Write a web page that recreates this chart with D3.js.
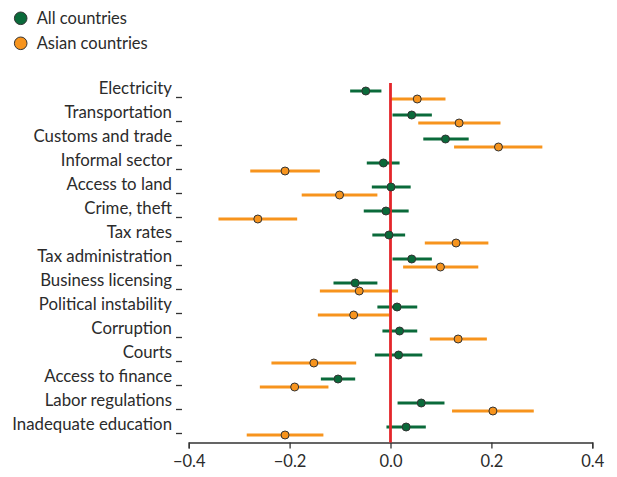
<!DOCTYPE html>
<html>
<head>
<meta charset="utf-8">
<script src="https://cdn.jsdelivr.net/npm/d3@7"></script>
<style>
  html, body { margin: 0; padding: 0; background: #fff; }
  svg { display: block; }
  text { font-family: Lato, "Noto Sans", sans-serif; fill: #2b2b2b; }
</style>
</head>
<body>
<svg id="chart" width="617" height="477"></svg>
<script>
// Obstacles to business: estimated effect with confidence interval
const categories = [
  "Electricity", "Transportation", "Customs and trade", "Informal sector",
  "Access to land", "Crime, theft", "Tax rates", "Tax administration",
  "Business licensing", "Political instability", "Corruption", "Courts",
  "Access to finance", "Labor regulations", "Inadequate education"
];

// All countries: point estimate, lower and upper bound
const allEst = [-0.049, 0.042, 0.109, -0.014, 0.001, -0.009, -0.003, 0.042, -0.070, 0.013, 0.018, 0.016, -0.104, 0.061, 0.031];
const allLo  = [-0.080, 0.004, 0.065, -0.047, -0.037, -0.053, -0.036, 0.004, -0.113, -0.026, -0.016, -0.031, -0.138, 0.014, -0.008];
const allHi  = [-0.018, 0.082, 0.155, 0.018, 0.040, 0.036, 0.029, 0.082, -0.026, 0.053, 0.053, 0.063, -0.070, 0.107, 0.070];

// Asian countries: point estimate, lower and upper bound
const asiaEst = [0.053, 0.136, 0.214, -0.209, -0.101, -0.263, 0.130, 0.099, -0.062, -0.073, 0.134, -0.152, -0.190, 0.203, -0.209];
const asiaLo  = [0.000, 0.055, 0.126, -0.278, -0.176, -0.341, 0.068, 0.025, -0.140, -0.144, 0.078, -0.236, -0.259, 0.122, -0.285];
const asiaHi  = [0.109, 0.218, 0.301, -0.140, -0.026, -0.185, 0.194, 0.174, 0.015, -0.002, 0.191, -0.068, -0.123, 0.284, -0.133];

const xTicks = [-0.4, -0.2, 0.0, 0.2, 0.4];
const seriesNames = ["All countries", "Asian countries"];

const GREEN = "#0a6a3a";
const ORANGE = "#f7941d";
const RED = "#e4262b";

const svg = d3.select("#chart");

const x = d3.scaleLinear().domain([-0.4, 0.4]).range([188.7, 592.3]);
const y = d3.scalePoint().domain(categories).range([91, 427]);
const offset = { "All countries": 0, "Asian countries": 8 };

const series = [
  { name: seriesNames[0], color: GREEN, est: allEst, lo: allLo, hi: allHi },
  { name: seriesNames[1], color: ORANGE, est: asiaEst, lo: asiaLo, hi: asiaHi }
];

// x axis
const xAxis = d3.axisBottom(x)
  .tickValues(xTicks)
  .tickSize(6)
  .tickPadding(7)
  .tickFormat(d3.format(".1f"));

const gx = svg.append("g")
  .attr("transform", "translate(0,442.5)")
  .call(xAxis);
gx.select(".domain").attr("stroke", "#333").attr("stroke-width", 1.3);
gx.selectAll(".tick line").attr("stroke", "#333").attr("stroke-width", 1.3);
gx.selectAll(".tick text")
  .style("font-family", "Lato, 'Noto Sans', sans-serif")
  .style("font-size", "16.5px")
  .attr("fill", "#2b2b2b")
  .text(d => d3.format(".1f")(d).replace("-", "\u2212"));

// y axis: category labels with short tick marks
const yAxis = d3.axisLeft(y).tickSize(6).tickPadding(4);
const gy = svg.append("g")
  .attr("transform", "translate(182,0)")
  .call(yAxis);
gy.select(".domain").remove();
gy.selectAll(".tick line")
  .attr("y1", 6).attr("y2", 6)
  .attr("stroke", "#333").attr("stroke-width", 1.3);
gy.selectAll(".tick text")
  .style("font-family", "Lato, 'Noto Sans', sans-serif")
  .style("font-size", "16.8px")
  .attr("fill", "#2b2b2b")
  .attr("dy", "2.5");

// confidence interval bars
series.forEach(s => {
  svg.append("g").selectAll("line")
    .data(categories)
    .join("line")
    .attr("x1", (d, i) => x(s.lo[i]))
    .attr("x2", (d, i) => x(s.hi[i]))
    .attr("y1", d => y(d) + offset[s.name])
    .attr("y2", d => y(d) + offset[s.name])
    .attr("stroke", s.color)
    .attr("stroke-width", 3);
});

// zero reference line
svg.append("line")
  .attr("x1", x(0)).attr("x2", x(0))
  .attr("y1", 83).attr("y2", 442.5)
  .attr("stroke", RED)
  .attr("stroke-width", 2.8);

// point estimates
series.forEach(s => {
  svg.append("g").selectAll("circle")
    .data(categories)
    .join("circle")
    .attr("cx", (d, i) => x(s.est[i]))
    .attr("cy", d => y(d) + offset[s.name])
    .attr("r", 4)
    .attr("fill", s.color)
    .attr("stroke", "#333")
    .attr("stroke-width", 1);
});

// legend
const legend = svg.append("g");
series.forEach((s, i) => {
  const g = legend.append("g").attr("transform", `translate(20.7,${18.3 + i * 25})`);
  g.append("circle")
    .attr("r", 6.3)
    .attr("fill", s.color)
    .attr("stroke", "#333")
    .attr("stroke-width", 1);
  g.append("text")
    .attr("x", 16)
    .attr("dy", "0.35em")
    .style("font-size", "16.5px")
    .text(s.name);
});
</script>
</body>
</html>
